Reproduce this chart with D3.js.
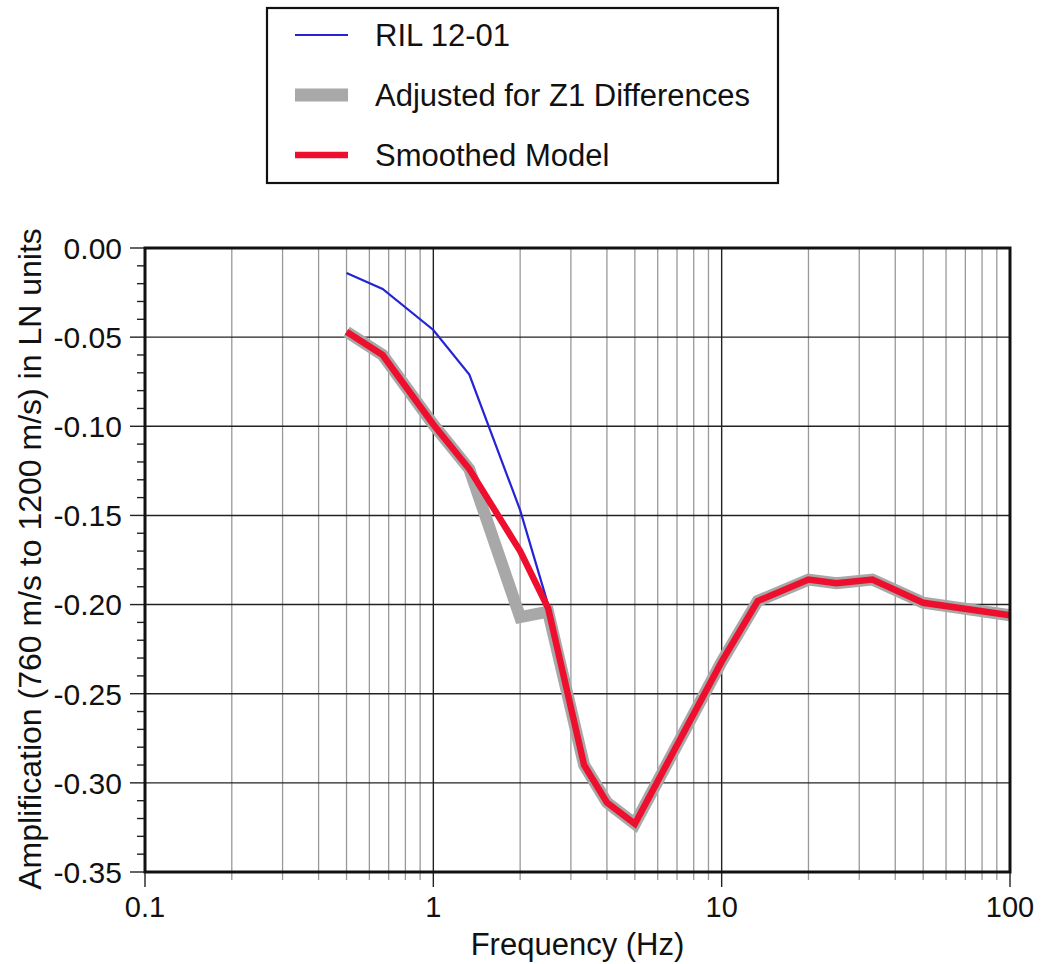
<!DOCTYPE html>
<html>
<head>
<meta charset="utf-8">
<script src="https://cdn.jsdelivr.net/npm/d3@7"></script>
<style>
  body { margin: 0; background: #fff; }
  text { font-family: "Liberation Sans", Arial, sans-serif; fill: #111; }
</style>
</head>
<body>
<script>
// frequencies (Hz) and amplification values
const rilFreq = [0.5, 0.667, 1, 1.333, 2, 2.5];
const rilAmp = [-0.014, -0.023, -0.046, -0.071, -0.147, -0.200];

const modelFreq = [0.5, 0.667, 1, 1.333, 2, 2.5, 3.333, 4, 5, 10, 13.33, 20, 25, 33.33, 50, 100];
const adjustedAmp = [-0.047, -0.060, -0.099, -0.124, -0.207, -0.204, -0.290, -0.311, -0.323, -0.232, -0.198, -0.186, -0.188, -0.186, -0.199, -0.206];
const smoothedAmp = [-0.047, -0.060, -0.099, -0.124, -0.170, -0.202, -0.290, -0.311, -0.323, -0.232, -0.198, -0.186, -0.188, -0.186, -0.199, -0.206];

const xTickLabels = ["0.1", "1", "10", "100"];
const yTickValues = [0, -0.05, -0.10, -0.15, -0.20, -0.25, -0.30, -0.35];
const legendNames = ["RIL 12-01", "Adjusted for Z1 Differences", "Smoothed Model"];

const W = 1042, H = 964;
const plotL = 145, plotR = 1010, plotT = 248, plotB = 872;

const svg = d3.select("body").append("svg")
  .attr("width", W)
  .attr("height", H);

const x = d3.scaleLog().domain([0.1, 100]).range([plotL, plotR]);
const y = d3.scaleLinear().domain([-0.35, 0]).range([plotB, plotT]);

// minor vertical grid (2..9 in each decade)
const minorX = [];
[0.1, 1, 10].forEach(d => { for (let k = 2; k <= 9; k++) minorX.push(d * k); });
const majorX = [1, 10];

svg.append("g").selectAll("line").data(minorX).join("line")
  .attr("x1", d => x(d)).attr("x2", d => x(d))
  .attr("y1", plotT).attr("y2", plotB + 8)
  .attr("stroke", "#999").attr("stroke-width", 1.3);

svg.append("g").selectAll("line").data(majorX).join("line")
  .attr("x1", d => x(d)).attr("x2", d => x(d))
  .attr("y1", plotT).attr("y2", plotB + 15)
  .attr("stroke", "#222").attr("stroke-width", 1.4);

// x ticks on the frame ends
svg.append("g").selectAll("line").data([0.1, 100]).join("line")
  .attr("x1", d => x(d)).attr("x2", d => x(d))
  .attr("y1", plotB).attr("y2", plotB + 15)
  .attr("stroke", "#222").attr("stroke-width", 1.4);

// horizontal grid
svg.append("g").selectAll("line").data(yTickValues.slice(1, -1)).join("line")
  .attr("x1", plotL).attr("x2", plotR)
  .attr("y1", d => y(d)).attr("y2", d => y(d))
  .attr("stroke", "#222").attr("stroke-width", 1.4);

// y ticks: minor every 0.01, major every 0.05
const minorY = d3.range(0, 36).map(i => -i * 0.01);
svg.append("g").selectAll("line").data(minorY).join("line")
  .attr("x1", (d, i) => i % 5 === 0 ? plotL - 15 : plotL - 8).attr("x2", plotL)
  .attr("y1", d => y(d)).attr("y2", d => y(d))
  .attr("stroke", "#222").attr("stroke-width", 1.4);

// curves
const line = d3.line().x(d => x(d[0])).y(d => y(d[1]));

svg.append("path")
  .datum(d3.zip(modelFreq, adjustedAmp))
  .attr("d", line)
  .attr("fill", "none")
  .attr("stroke", "#a8a8a8")
  .attr("stroke-width", 12);

svg.append("path")
  .datum(d3.zip(rilFreq, rilAmp))
  .attr("d", line)
  .attr("fill", "none")
  .attr("stroke", "#2424d6")
  .attr("stroke-width", 2.2);

svg.append("path")
  .datum(d3.zip(modelFreq, smoothedAmp))
  .attr("d", line)
  .attr("fill", "none")
  .attr("stroke", "#ee0f2e")
  .attr("stroke-width", 6.5);

// frame
svg.append("rect")
  .attr("x", plotL).attr("y", plotT)
  .attr("width", plotR - plotL).attr("height", plotB - plotT)
  .attr("fill", "none").attr("stroke", "#111").attr("stroke-width", 3);

// tick labels
svg.append("g").selectAll("text").data(yTickValues).join("text")
  .attr("x", 122).attr("y", d => y(d))
  .attr("dy", "0.36em")
  .attr("text-anchor", "end")
  .style("font-size", "30px")
  .text(d => d.toFixed(2));

svg.append("g").selectAll("text").data(xTickLabels).join("text")
  .attr("x", d => x(+d)).attr("y", 917)
  .attr("text-anchor", "middle")
  .style("font-size", "29px")
  .text(d => d);

// axis titles
svg.append("text")
  .attr("x", (plotL + plotR) / 2).attr("y", 955)
  .attr("text-anchor", "middle")
  .style("font-size", "31px")
  .text("Frequency (Hz)");

svg.append("text")
  .attr("transform", "translate(41," + ((228 + 890) / 2) + ") rotate(-90)")
  .attr("text-anchor", "middle")
  .style("font-size", "32px")
  .text("Amplification (760 m/s to 1200 m/s) in LN units");

// legend
const legend = svg.append("g");
legend.append("rect")
  .attr("x", 267).attr("y", 8).attr("width", 511).attr("height", 175)
  .attr("fill", "#fff").attr("stroke", "#111").attr("stroke-width", 2.2);

const swatchColor = ["#2424d6", "#a8a8a8", "#ee0f2e"];
const swatchWidth = [2.2, 13, 6.5];
legendNames.forEach((name, i) => {
  const ry = 35 + i * 60;
  legend.append("line")
    .attr("x1", 295).attr("x2", 348).attr("y1", ry).attr("y2", ry)
    .attr("stroke", swatchColor[i]).attr("stroke-width", swatchWidth[i]);
  legend.append("text")
    .attr("x", 375).attr("y", ry + 11)
    .style("font-size", "31px")
    .text(name);
});
</script>
</body>
</html>
